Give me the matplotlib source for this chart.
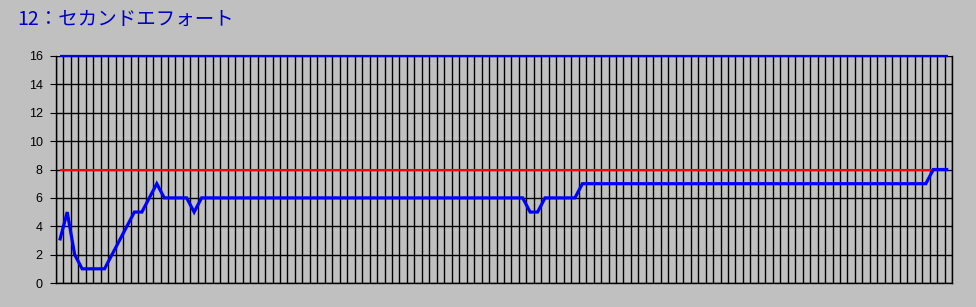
import numpy as np
import matplotlib
matplotlib.use('Agg')
import matplotlib.pyplot as plt

# --- data ---
title = '12：セカンドエフォート'
values = [3, 5, 2, 1, 1, 1, 1, 2, 3, 4,
          5, 5, 6, 7, 6, 6, 6, 6, 5, 6,
          6, 6, 6, 6, 6, 6, 6, 6, 6, 6,
          6, 6, 6, 6, 6, 6, 6, 6, 6, 6,
          6, 6, 6, 6, 6, 6, 6, 6, 6, 6,
          6, 6, 6, 6, 6, 6, 6, 6, 6, 6,
          6, 6, 6, 5, 5, 6, 6, 6, 6, 6,
          7, 7, 7, 7, 7, 7, 7, 7, 7, 7,
          7, 7, 7, 7, 7, 7, 7, 7, 7, 7,
          7, 7, 7, 7, 7, 7, 7, 7, 7, 7,
          7, 7, 7, 7, 7, 7, 7, 7, 7, 7,
          7, 7, 7, 7, 7, 7, 7, 8, 8, 8]
upper_level = 16
mid_level = 8
y_ticks = [0, 2, 4, 6, 8, 10, 12, 14, 16]

bg = '#c0c0c0'
blue = '#0000ff'
red = '#ff0000'

n = len(values)
x = np.arange(n)

fig = plt.figure(figsize=(9.76, 3.07), dpi=100, facecolor=bg)
ax = fig.add_axes([56 / 976, 24 / 307, 896 / 976, 227 / 307])
ax.set_facecolor(bg)

# category boundaries as vertical grid lines
ax.set_xticks(np.arange(-0.5, n, 1.0))
ax.set_xlim(-0.5, n - 0.5)
ax.tick_params(axis='x', length=0, labelbottom=False)
ax.grid(True, axis='x', color='black', linewidth=1.0)

ax.set_ylim(0, 16)
ax.set_yticks(y_ticks)
ax.set_yticklabels([str(v) for v in y_ticks], family='Liberation Sans', fontsize=9)
ax.tick_params(axis='y', length=4.5, width=0.8, color='black', pad=5)
ax.grid(True, axis='y', color='black', linewidth=1.0)
ax.set_axisbelow(True)

for side in ['left', 'bottom', 'right']:
    ax.spines[side].set_color('black')
    ax.spines[side].set_linewidth(1.0)
ax.spines['top'].set_visible(False)

ax.plot(x, [upper_level] * n, color='#0000e0', linewidth=1.6, clip_on=False,
        solid_capstyle='butt')
ax.plot(x, [mid_level] * n, color=red, linewidth=1.5, solid_capstyle='butt')
ax.plot(x, values, color=blue, linewidth=2.3, solid_joinstyle='miter',
        solid_capstyle='butt')

fig.text(17 / 976, 1 - 25 / 307, title, family=['Noto Sans CJK JP', 'DejaVu Sans'],
         fontsize=14, color='#0000c0', ha='left', va='baseline')

fig.savefig('out.png', dpi=100, facecolor=bg)
